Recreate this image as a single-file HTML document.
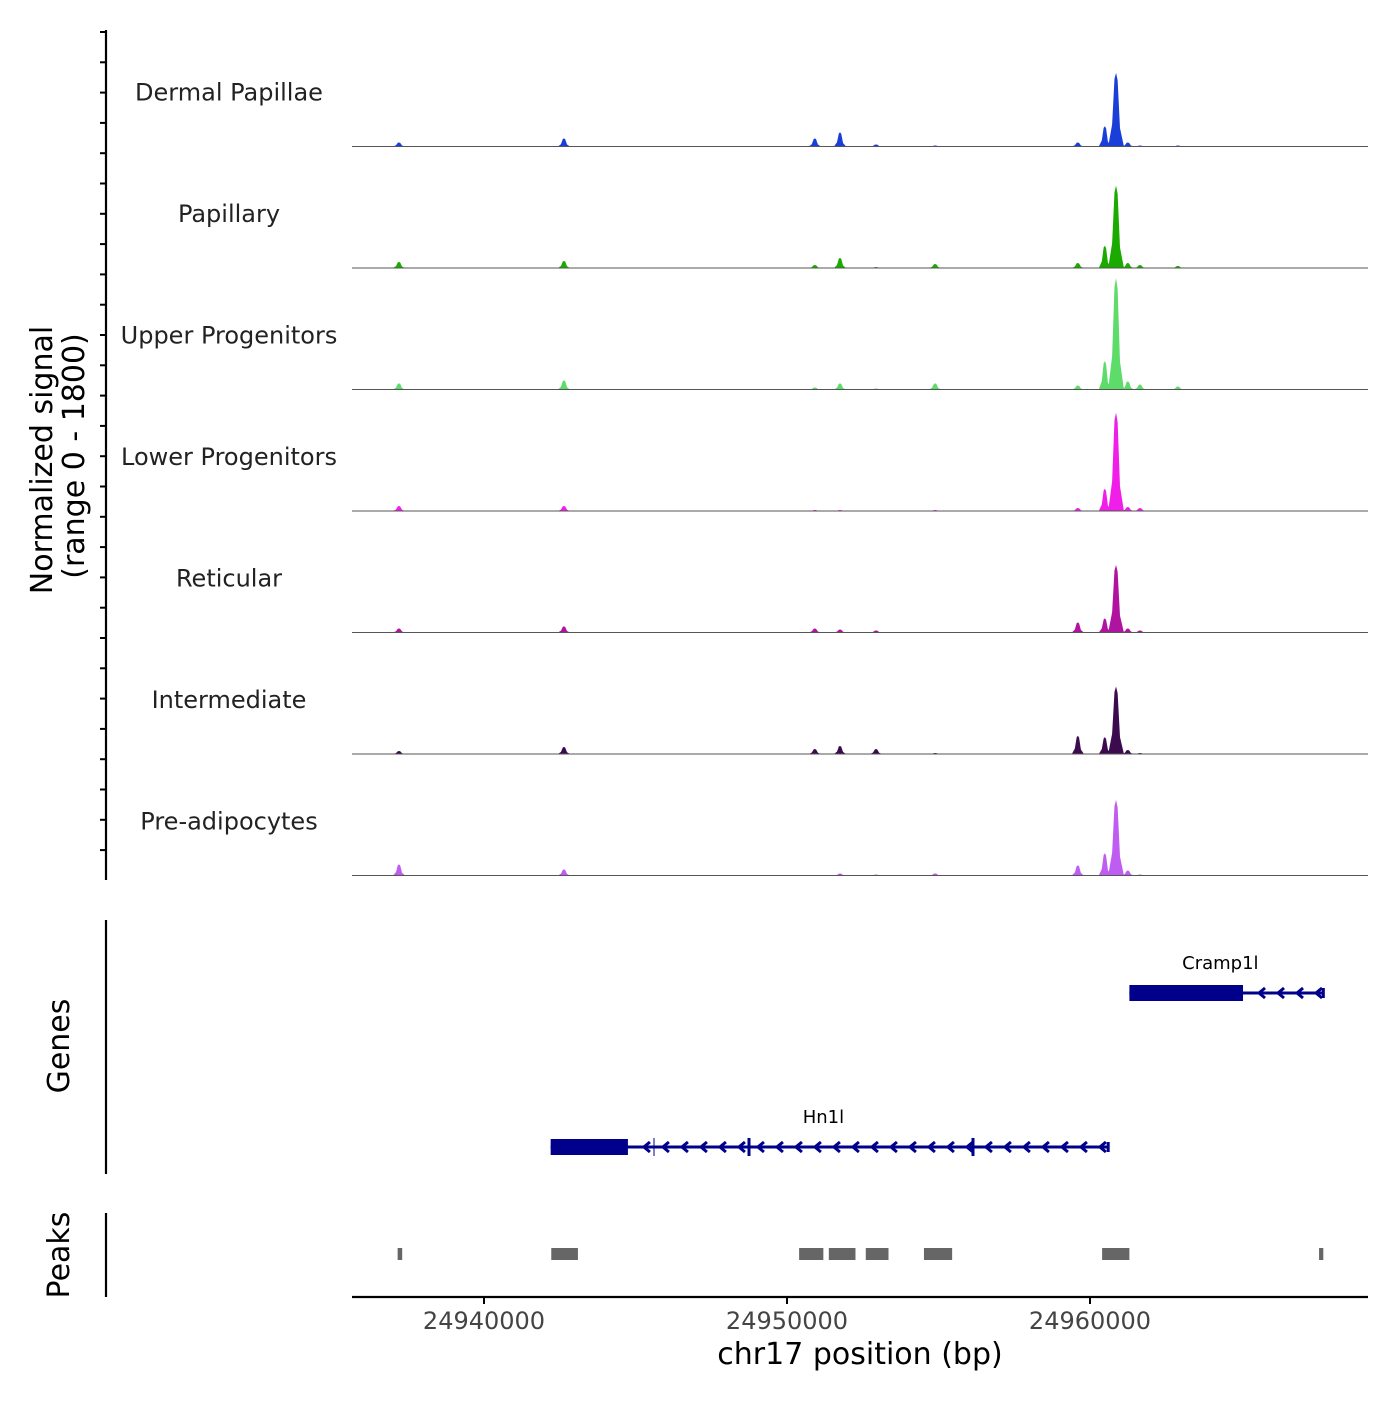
<!DOCTYPE html>
<html><head><meta charset="utf-8"><style>
body{margin:0;background:#fff}
svg text{font-family:"DejaVu Sans","Liberation Sans",sans-serif}
</style></head><body>
<svg id="c" width="1400" height="1400" xmlns="http://www.w3.org/2000/svg">
<g id="tracks"></g>
<line x1="106" y1="30" x2="106" y2="880" stroke="#000" stroke-width="2.2"/>
<g id="yticks"></g>
<text transform="translate(52,460) rotate(-90)" text-anchor="middle" font-size="30">Normalized signal</text>
<text transform="translate(84,456) rotate(-90)" text-anchor="middle" font-size="30">(range 0 - 1800)</text>
<line x1="106" y1="920" x2="106" y2="1174" stroke="#000" stroke-width="2.2"/>
<text transform="translate(69,1046) rotate(-90)" text-anchor="middle" font-size="30">Genes</text>
<g id="genes"></g>
<line x1="106" y1="1213" x2="106" y2="1297" stroke="#000" stroke-width="2.2"/>
<text transform="translate(69,1255) rotate(-90)" text-anchor="middle" font-size="30">Peaks</text>
<g id="peaks"></g>
<line x1="352" y1="1297" x2="1368" y2="1297" stroke="#000" stroke-width="2.2"/>
<g id="xticks"></g>
<text x="860" y="1364" text-anchor="middle" font-size="30">chr17 position (bp)</text>
</svg>
<script>
const NS="http://www.w3.org/2000/svg";
const trackNames=["Dermal Papillae","Papillary","Upper Progenitors","Lower Progenitors","Reticular","Intermediate","Pre-adipocytes"];
const trackColors=["#1a3fd8","#1aaa00","#5ddc6a","#f01ee8","#b0139f","#3b0a4f","#bf5cf2"];
const peakPos=[24937195,24942640,24950920,24951750,24952940,24954890,24959600,24960490,24960860,24961250,24961650,24962900];
const sigDermal=[60,120,120,210,30,15,60,300,1090,60,15,15];
const sigPapillary=[90,105,45,150,15,60,75,330,1220,75,45,30];
const sigUpper=[90,135,30,90,15,90,60,420,1650,120,75,45];
const sigLower=[75,75,15,15,0,15,45,330,1460,60,45,0];
const sigReticular=[60,90,60,45,30,0,150,210,1000,60,30,0];
const sigIntermediate=[45,105,75,120,75,15,270,250,1000,60,15,0];
const sigPreadipo=[165,90,0,30,15,30,150,330,1120,75,15,0];
const signals=[sigDermal,sigPapillary,sigUpper,sigLower,sigReticular,sigIntermediate,sigPreadipo];
const xTicks=[24940000,24950000,24960000];
const peakStarts=[24937150,24942220,24950400,24951380,24952600,24954520,24960400,24967560];
const peakEnds=[24937300,24943100,24951200,24952260,24953350,24955450,24961300,24967700];
const genes=[{name:"Cramp1l",start:24961300,end:24967700,cdsStart:24961300,cdsEnd:24965050},{name:"Hn1l",start:24942200,end:24960600,cdsStart:24942200,cdsEnd:24944750}];
const xs=v=>484+(v-24940000)*303/10000;
const trackTop=25, trackH=121.5, maxSig=1800;
function el(t,a,p){const e=document.createElementNS(NS,t);for(const k in a)e.setAttribute(k,a[k]);p.appendChild(e);return e;}
const tg=document.getElementById("tracks");
signals.forEach((s,i)=>{
  const base=trackTop+trackH*(i+1);
  const ys=v=>base-v/maxSig*trackH;
  const g=el("g",{},tg);
  
  
  let d="M352,"+base;
  peakPos.forEach((p,j)=>{const w=j==8?260:200;d+=` L${xs(p-w)},${base} L${xs(p-w/2)},${ys(s[j]*0.3)} L${xs(p-w/5)},${ys(s[j]*0.92)} L${xs(p)},${ys(s[j])} L${xs(p+w/5)},${ys(s[j]*0.9)} L${xs(p+w/2)},${ys(s[j]*0.25)} L${xs(p+w)},${base}`;});
  d+=" L1368,"+base+" Z";
  const a=el("path",{d:d,fill:trackColors[i]},g);
  
  
  const l=el("line",{x1:352,x2:1368,y1:base,y2:base,stroke:"#555","stroke-width":1},g);
  
  
  const t=el("text",{x:229,y:base-46,"text-anchor":"middle","font-size":24,fill:"#222"},g);
  t.textContent=trackNames[i];
  
  
});
const yt=document.getElementById("yticks");
for(let y=32;y<=880;y+=30.3){const l=el("line",{x1:100,x2:106,y1:y,y2:y,stroke:"#000","stroke-width":2},yt);
  
  }
const gg=document.getElementById("genes");
genes.forEach((g,i)=>{
  const y=i==0?993:1147;
  const c="#00008b";
  const grp=el("g",{},gg);
  
  
  el("line",{x1:xs(g.start),x2:xs(g.end),y1:y,y2:y,stroke:c,"stroke-width":3},grp);
  el("rect",{x:xs(g.cdsStart),y:y-8,width:xs(g.cdsEnd)-xs(g.cdsStart),height:16,fill:c},grp);
  for(let x=xs(g.cdsEnd)+18;x<xs(g.end)-4;x+=19)el("path",{d:`M${x+4},${y-5} L${x-2},${y} L${x+4},${y+5}`,stroke:c,"stroke-width":3,fill:"none"},grp);
  el("line",{x1:xs(g.end),x2:xs(g.end),y1:y-5,y2:y+5,stroke:c,"stroke-width":3},grp);
  if(i==1){[[654,1],[749,3],[973,3]].forEach(v=>el("line",{x1:v[0],x2:v[0],y1:y-9,y2:y+9,stroke:c,"stroke-width":v[1]},grp));}
  const t=el("text",{x:(xs(g.start)+xs(g.end))/2-6,y:y-24,"text-anchor":"middle","font-size":18},grp);
  t.textContent=g.name;
  
  
});
const pg=document.getElementById("peaks");
peakStarts.forEach((s,i)=>{const r=el("rect",{x:xs(s),y:1248,width:Math.max(4,xs(peakEnds[i])-xs(s)),height:12,fill:"#666"},pg);
  
  });
const xt=document.getElementById("xticks");
xTicks.forEach(v=>{const l=el("line",{x1:xs(v),x2:xs(v),y1:1297,y2:1304,stroke:"#000","stroke-width":2},xt);
  
  
  const t=el("text",{x:xs(v),y:1329,"text-anchor":"middle","font-size":24,fill:"#444"},xt);
  t.textContent=v;
  
  });
</script>
</body></html>
